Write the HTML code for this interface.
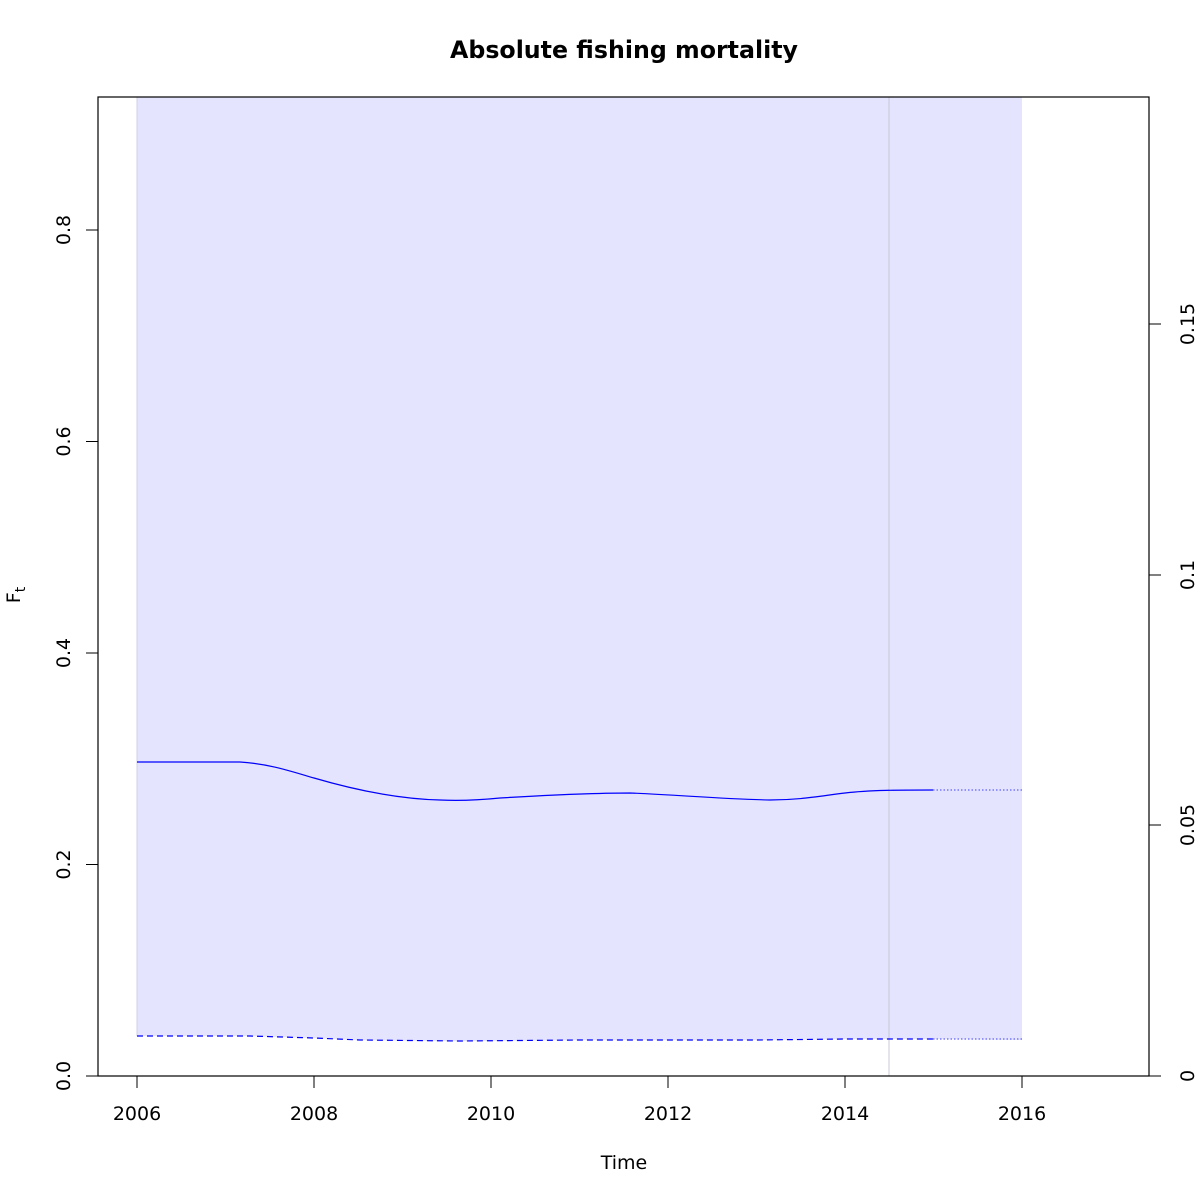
<!DOCTYPE html>
<html><head><style>body{margin:0;background:#fff}svg{display:block}text{font-family:"DejaVu Sans","Liberation Sans",sans-serif}</style></head><body>
<svg width="1200" height="1200" viewBox="0 0 1200 1200" xmlns="http://www.w3.org/2000/svg">
<text x="624" y="58" text-anchor="middle" font-size="23.7" font-weight="bold">Absolute fishing mortality</text>
<path d="M137,97 L1022,97 L1022,1040 L933,1039 L845,1039 L757,1040 L580,1040 L460,1041 L360,1040 L314,1038 L250,1036 L137,1036 Z" fill="#e4e4fe"/>
<line x1="137" y1="97" x2="137" y2="1036" stroke="#d0d0e8" stroke-width="1"/>
<line x1="889" y1="97" x2="889" y2="1076" stroke="#c8c8d8" stroke-width="1"/>
<path d="M137,762 L240,762 C270,764 290,771 314,778 C355,790 400,799 440,800 C460,801 480,800 500,798 C550,795 590,793 630,793 C680,795 720,799 770,800 C800,800 820,796 845,793 C870,790 900,790 933,790" fill="none" stroke="#0000ff" stroke-width="1.2"/>
<line x1="933" y1="790" x2="1022" y2="790" stroke="#6060ff" stroke-width="1.2" stroke-dasharray="1.5,2"/>
<path d="M137,1036 L250,1036 L314,1038 L360,1040 L460,1041 L580,1040 L757,1040 L845,1039 L933,1039" fill="none" stroke="#0000ff" stroke-width="1.2" stroke-dasharray="6,4"/>
<line x1="933" y1="1039" x2="1022" y2="1039" stroke="#6060ff" stroke-width="1.2" stroke-dasharray="1.5,2"/>
<rect x="98" y="97" width="1051" height="979" fill="none" stroke="#000" stroke-width="1.2"/>
<g stroke="#000" stroke-width="1">
<line x1="137" y1="1076" x2="137" y2="1088"/><line x1="314" y1="1076" x2="314" y2="1088"/><line x1="491" y1="1076" x2="491" y2="1088"/><line x1="668" y1="1076" x2="668" y2="1088"/><line x1="845" y1="1076" x2="845" y2="1088"/><line x1="1022" y1="1076" x2="1022" y2="1088"/>
<line x1="98" y1="1076" x2="86" y2="1076"/><line x1="98" y1="864.5" x2="86" y2="864.5"/><line x1="98" y1="653" x2="86" y2="653"/><line x1="98" y1="441.5" x2="86" y2="441.5"/><line x1="98" y1="230" x2="86" y2="230"/>
<line x1="1149" y1="1076" x2="1161" y2="1076"/><line x1="1149" y1="825" x2="1161" y2="825"/><line x1="1149" y1="575" x2="1161" y2="575"/><line x1="1149" y1="324" x2="1161" y2="324"/>
</g>
<g font-size="19" text-anchor="middle">
<text x="137" y="1120">2006</text><text x="314" y="1120">2008</text><text x="491" y="1120">2010</text><text x="668" y="1120">2012</text><text x="845" y="1120">2014</text><text x="1022" y="1120">2016</text>
<text transform="translate(70,1076) rotate(-90)">0.0</text><text transform="translate(70,864.5) rotate(-90)">0.2</text><text transform="translate(70,653) rotate(-90)">0.4</text><text transform="translate(70,441.5) rotate(-90)">0.6</text><text transform="translate(70,230) rotate(-90)">0.8</text>
<text transform="translate(1194,1076) rotate(-90)">0</text><text transform="translate(1194,825) rotate(-90)">0.05</text><text transform="translate(1194,575) rotate(-90)">0.1</text><text transform="translate(1194,324) rotate(-90)">0.15</text>
<text x="624" y="1169">Time</text>
</g>
<text transform="translate(20,595) rotate(-90)" font-size="19" text-anchor="middle">F<tspan font-size="14" dy="5">t</tspan></text>
</svg>
</body></html>
